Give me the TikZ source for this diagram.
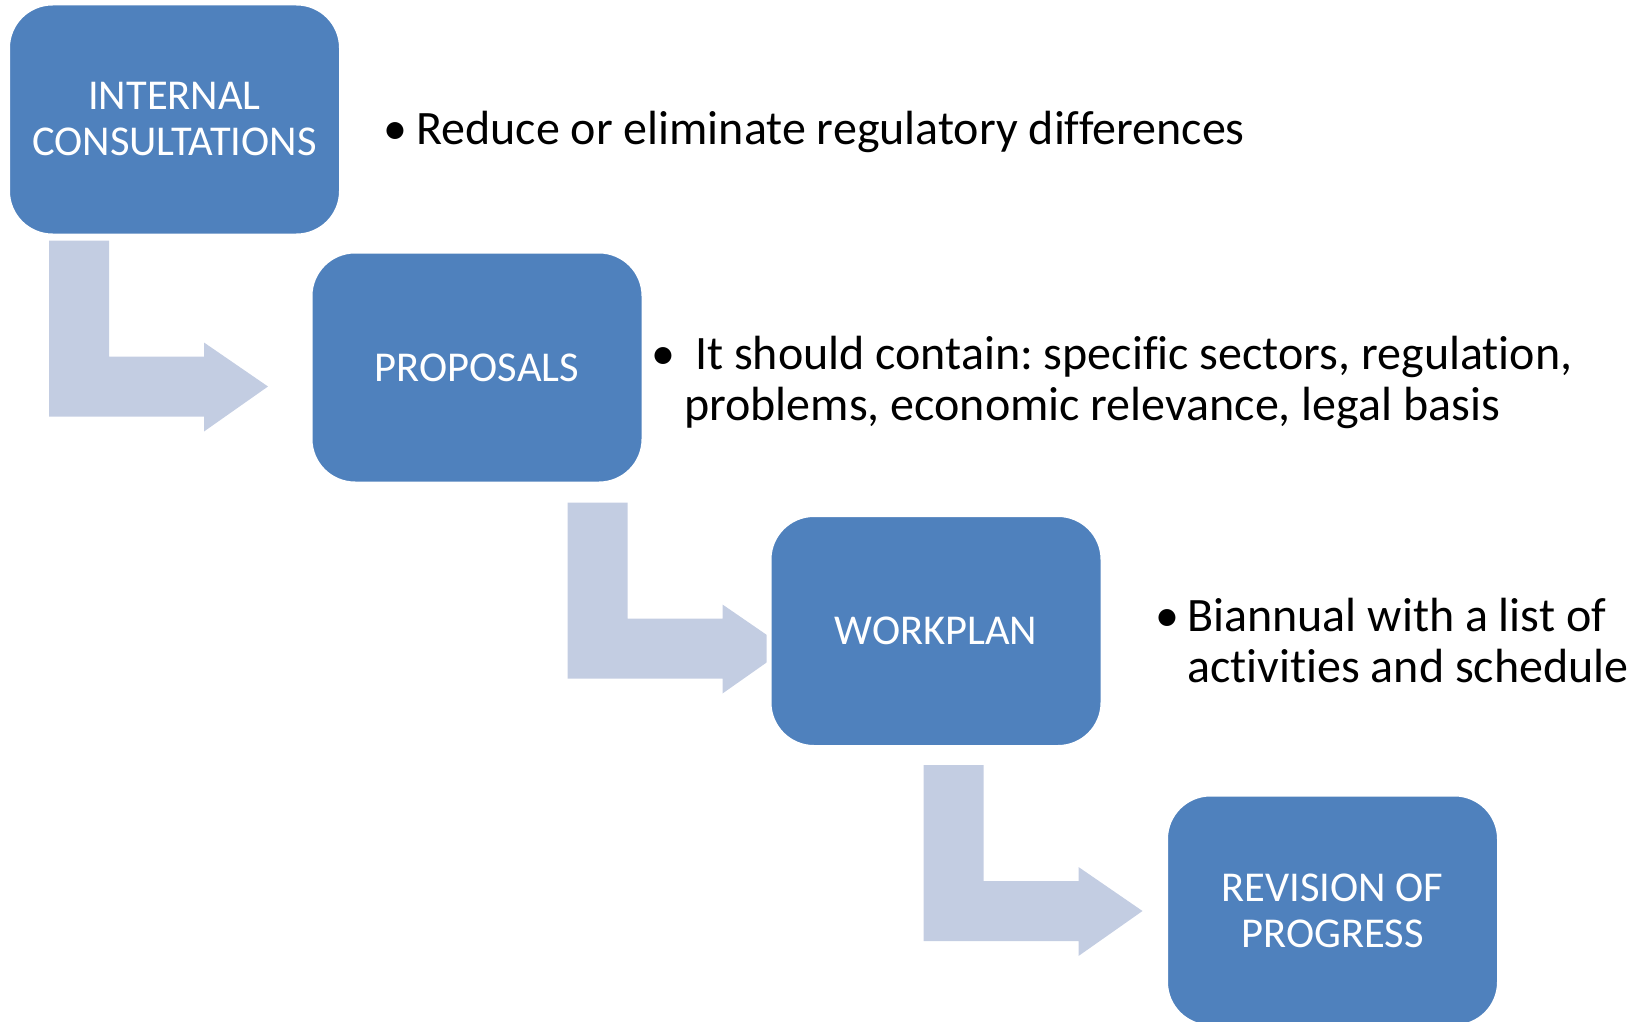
\documentclass[tikz,border=0pt]{standalone}
\usepackage{fontspec}
\setmainfont{Carlito}[Ligatures=NoCommon]
\usepackage{tikz}
\usetikzlibrary{calc,backgrounds}

\definecolor{boxblue}{HTML}{4F81BD}
\definecolor{shaftblue}{HTML}{C3CDE2}

\frenchspacing

\begin{document}
\begin{tikzpicture}[x=1pt,y=-1pt]

	\tikzstyle{mybox}=[rectangle,rounded corners=45pt,fill=boxblue,draw=white,line width=5pt,minimum width=334pt,minimum height=233pt,inner sep=0pt,outer sep=0pt,align=center,text=white,font=\fontsize{42.5}{46}\selectfont]
	\tikzstyle{mynote}=[anchor=base west,inner sep=0pt,font=\fontsize{48}{51}\selectfont]
	\tikzstyle{myshaft}=[fill=shaftblue]

	\useasboundingbox (0,0) rectangle (1642,1022);

	% the four stages, top left to bottom right
	\node[mybox] (intcons) at (174.5,119.5) {INTERNAL\\CONSULTATIONS};
	\node[mybox] (proposals) at (477,367.5) {PROPOSALS};
	\node[mybox] (workplan) at (936,631) {WORKPLAN};
	\node[mybox] (revision) at (1332.5,910.5) {REVISION OF\\PROGRESS};

	% bullet notes
	\node[mynote] (note1) at (383,145) {\makebox[33pt][l]{\textbullet}Reduce or eliminate regulatory differences};
	\node[mynote] (note2) at (651,369) {\makebox[33pt][l]{\textbullet}\begin{tabular}[t]{@{}l@{}}\ It should contain: specific sectors, regulation,\\problems, economic relevance, legal basis\end{tabular}};
	\node[mynote] (note3) at (1155,631) {\makebox[32pt][l]{\textbullet}\begin{tabular}[t]{@{}l@{}}Biannual with a list of\\activities and schedule\end{tabular}};

	% bent arrows, under the boxes
	\begin{pgfonlayer}{background}
	\foreach \src / \dx / \dy in {intcons/41.5/4.5,proposals/257.5/18.5,workplan/154.5/17.5}{ \fill[myshaft] ($(\src.south west)+(\dx,\dy)$) -- ++(60,0) -- ++(0,116) -- ++(95,0) -- ++(0,-14) -- ++(64,44) -- ++(-64,45) -- ++(0,-15) -- ++(-155,0) -- cycle;}
	\end{pgfonlayer}
\end{tikzpicture}
\end{document}
